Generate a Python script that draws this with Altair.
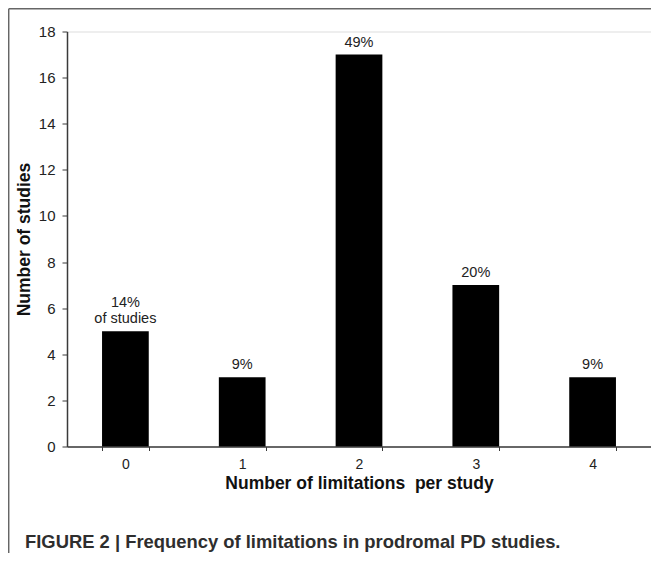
import altair as alt
import pandas as pd

categories = ["0", "1", "2", "3", "4"]
counts = [5, 3, 17, 7, 3]
bar_labels = ["14%\nof studies", "9%", "49%", "20%", "9%"]
y_ticks = [0, 2, 4, 6, 8, 10, 12, 14, 16, 18]

x_title = "Number of limitations\u00a0 per study"
y_title = "Number of studies"
caption = "FIGURE 2 | Frequency of limitations in prodromal PD studies."

# split each label into the line next to the bar and the line above it
lower_line = [s.split("\n")[-1] for s in bar_labels]
upper_line = [s.split("\n")[0] if "\n" in s else "" for s in bar_labels]

df = pd.DataFrame({"limitations": categories, "studies": counts,
                   "lower": lower_line, "upper": upper_line})

FONT = "Liberation Sans"
AXC = "#3a3a3a"

x_enc = alt.X(
    "limitations:N", sort=categories, title=x_title,
    scale=alt.Scale(paddingInner=0.6, paddingOuter=0.3),
    axis=alt.Axis(labelAngle=0, tickBand="extent", tickSize=4, labelPadding=7,
                  titlePadding=3, domainColor=AXC, tickColor=AXC, domainWidth=1.5,
                  labelFontSize=14, titleFontSize=17.5, labelColor="#222", titleColor="#111"),
)
y_enc = alt.Y(
    "studies:Q", title=y_title,
    scale=alt.Scale(domain=[0, 18], nice=False),
    axis=alt.Axis(values=y_ticks, tickSize=5, labelPadding=7, titlePadding=5, grid=False,
                  domainColor=AXC, tickColor=AXC, domainWidth=1.5,
                  labelFontSize=15, titleFontSize=17.5, labelColor="#222", titleColor="#111"),
)

base = alt.Chart(df)
bars = base.mark_bar(color="black").encode(x=x_enc, y=y_enc)
labels_low = base.mark_text(baseline="alphabetic", dy=-8, fontSize=14.5,
                            font=FONT, color="#222").encode(
    x=alt.X("limitations:N", sort=categories), y=alt.Y("studies:Q"), text="lower:N")
labels_up = base.mark_text(baseline="alphabetic", dy=-24, fontSize=14.5,
                           font=FONT, color="#222").encode(
    x=alt.X("limitations:N", sort=categories), y=alt.Y("studies:Q"), text="upper:N")

single = alt.Data(values=[{"k": 1}])
frame_left = alt.Chart(single).mark_rule(color="#666", strokeWidth=1.5).encode(
    x=alt.value(-58.3), y=alt.value(-22.8), y2=alt.value(600))
frame_top = alt.Chart(single).mark_rule(color="#666", strokeWidth=1.5).encode(
    x=alt.value(-58.3), x2=alt.value(700), y=alt.value(-22.8))
caption_text = alt.Chart(single).mark_text(
    align="left", baseline="alphabetic", font=FONT, fontSize=18.4, fontWeight="bold",
    color="#2e2e2e", text=caption).encode(x=alt.value(-42), y=alt.value(516))

chart = alt.layer(bars, labels_low, labels_up, frame_left, frame_top, caption_text).properties(
    width=584, height=415,
    autosize=alt.AutoSizeParams(type="none"),
    padding={"left": 59, "top": 23.5, "right": 0, "bottom": 106},
).configure_view(stroke=None).configure_axis(
    labelFont=FONT, titleFont=FONT, titleFontWeight="bold"
).configure(background="white")

chart.save("out.html", embed_options={"renderer": "svg", "actions": False})
